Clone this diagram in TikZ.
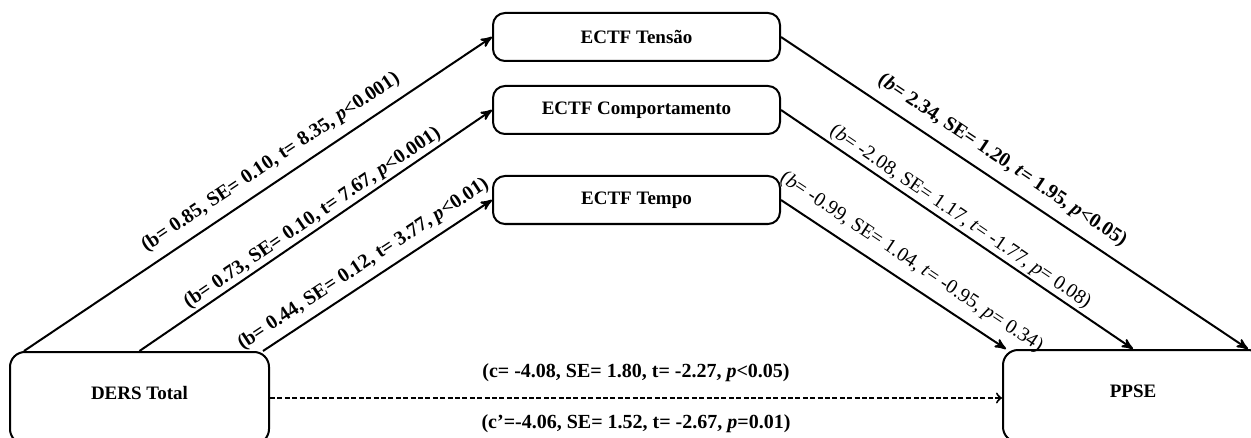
\documentclass[tikz,border=0pt]{standalone}
\usepackage{fontspec}
\setmainfont{Liberation Serif}
\usepackage{tikz}
\usetikzlibrary{arrows}
\usetikzlibrary{positioning}

\tikzset{
    medbox/.style={draw, line width=1pt, rounded corners=6pt, minimum width=143.5pt, minimum height=24pt,
                   inner sep=0pt, font=\fontsize{9.5pt}{11pt}\selectfont\bfseries},
    endbox/.style={draw, line width=1pt, rounded corners=7.5pt, minimum height=46pt, text depth=5pt,
                   inner sep=0pt, font=\fontsize{9.5pt}{11pt}\selectfont\bfseries},
    medarrow/.style={line width=1pt, -stealth'},
    direct/.style={line width=1pt, dash pattern=on 2.5pt off 1.2pt, -to},
    pathlbl/.style={sloped, inner sep=1pt, font=\fontsize{10pt}{11pt}\selectfont},
    boldlbl/.style={pathlbl, font=\fontsize{10pt}{11pt}\selectfont\bfseries}
}

\begin{document}
\begin{tikzpicture}[x=0.5pt, y=-0.5pt]
            % Frame
            \useasboundingbox (0, 0) rectangle (1251, 438);
            \clip             (0, 0) rectangle (1251, 438);
            % Mediators
            \node[medbox]                        (tensao)  at (636.5, 37) {ECTF Tensão};
            \node[medbox, below=11.5pt of tensao] (comport)               {ECTF Comportamento};
            \node[medbox, below=20pt of comport]  (tempo)                 {ECTF Tempo};
            % Predictor & outcome
            \node[endbox, minimum width=129.5pt] (ders)    at (139.5, 398) {DERS Total};
            \node[endbox, minimum width=130pt]   (ppse)    at (1133, 396)  {PPSE};
            % a paths
            \draw[medarrow] ([xshift=7.5pt]ders.north west) -- (tensao.west)
                 node[boldlbl, pos=0.55, above=3.5pt]  (aTensao)  {(b= 0.85, SE= 0.10, t= 8.35, \textit{p}<0.001)};
            \draw[medarrow] (ders.north)                    -- (comport.west)
                 node[boldlbl, pos=0.51, above=0pt]    (aComport) {(b= 0.73, SE= 0.10, t= 7.67, \textit{p}<0.001)};
            \draw[medarrow] ([xshift=-3.5pt]ders.north east) -- (tempo.west)
                 node[boldlbl, pos=0.48, above=2.5pt]  (aTempo)   {(b= 0.44, SE= 0.12, t= 3.77, \textit{p}<0.01)};
            % b paths
            \draw[medarrow] (tensao.east)  -- ([xshift=-8pt]ppse.north east)
                 node[boldlbl, pos=0.45, above=4pt]    (bTensao)  {(\textit{b}= 2.34, SE= 1.20, \textit{t}= 1.95, \textit{p}<0.05)};
            \draw[medarrow] (comport.east) -- (ppse.north)
                 node[pathlbl, pos=0.49, above=0pt]    (bComport) {(\textit{b}= -2.08, SE= 1.17, \textit{t}= -1.77, \textit{p}= 0.08)};
            \draw[medarrow] (tempo.east)   -- ([xshift=2pt]ppse.north west)
                 node[pathlbl, pos=0.53, above=4pt]    (bTempo)   {(\textit{b}= -0.99, SE= 1.04, \textit{t}= -0.95, \textit{p}= 0.34)};
            % c path
            \draw[direct]   (ders.east) -- (ders.east -| ppse.west)
                 node[boldlbl, midway, above=6.5pt] (cTotal)  {(c= -4.08, SE= 1.80, t= -2.27, \textit{p}<0.05)}
                 node[boldlbl, midway, below=7pt]   (cDirect) {(c'=-4.06, SE= 1.52, t= -2.67, \textit{p}=0.01)};
        \end{tikzpicture}
\end{document}
